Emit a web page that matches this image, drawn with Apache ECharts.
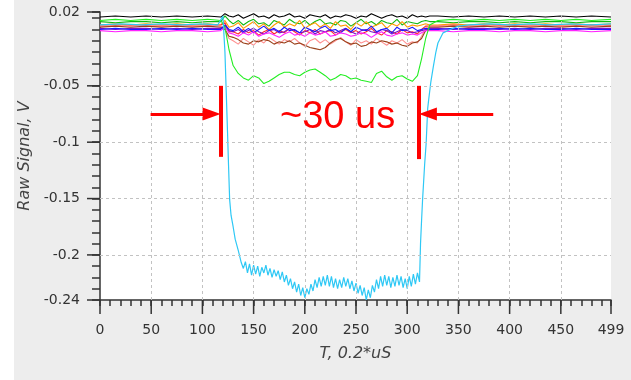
<!DOCTYPE html>
<html><head><meta charset="utf-8">
<script src="https://cdn.jsdelivr.net/npm/echarts@6/dist/echarts.min.js"></script>
<style>html,body{margin:0;padding:0;background:#fff}#c{width:631px;height:380px}</style>
</head><body><div id="c"></div>
<script>
// ---- data ----
const T = [0,15,30,45,60,75,90,105,118,122,126,
130,135,140,145,150,155,160,165,170,175,180,185,190,195,200,205,210,215,220,225,230,235,240,245,250,255,260,265,270,275,280,285,290,295,300,305,310,
314,318,322,330,345,360,375,390,405,420,435,450,465,480,499];

const black = [.011,.012,.011,.012,.011,.012,.011,.012,.011, .014,.012,
.011,.013,.010,.012,.014,.011,.012,.010,.013,.011,
.012,.014,.011,.012,.010,.013,.012,.011,.013,.010,
.012,.011,.013,.012,.010,.012,.011,.014,.012,.010,
.012,.013,.011,.012,.010,.013,.011,
.012,.011,.012, .012,.011,.012,.011,.012,.011,.012,.011,.012,.011,.012,.011];

const lime = [.008,.009,.008,.009,.008,.009,.008,.009,.008, .002,-.018,
-.032,-.039,-.043,-.045,-.041,-.043,-.048,-.046,-.043,-.040,
-.038,-.038,-.040,-.041,-.038,-.036,-.035,-.038,-.041,-.045,
-.043,-.040,-.041,-.044,-.043,-.045,-.046,-.047,-.039,-.037,
-.042,-.045,-.042,-.041,-.044,-.046,-.041,
-.026,-.008,.004, .008,.009,.008,.009,.008,.009,.008,.009,.008,.009,.008,.009];

const green2 = [.007,.006,.007,.007,.006,.007,.006,.007,.007, .012,.008,
.005,.008,.004,.007,.009,.005,.006,.003,.008,.006,
.004,.009,.006,.005,.008,.004,.007,.009,.005,.006,
.004,.008,.007,.003,.006,.009,.005,.007,.004,.008,
.006,.005,.009,.004,.007,.006,.005,
.007,.008,.007, .007,.006,.007,.007,.006,.007,.006,.007,.007,.006,.007,.007];

const orange = [.004,.005,.004,.005,.004,.005,.004,.005,.004, .008,.002,
.003,.006,.001,.004,.007,.002,.005,.000,.004,.007,
.002,.005,.003,.008,.001,.004,.006,.002,.005,.001,
.007,.003,.004,.000,.006,.003,.007,.002,.004,.006,
.001,.005,.003,.007,.002,.004,.003,
.004,.005,.004, .004,.005,.004,.005,.004,.005,.004,.005,.004,.005,.004,.005];

const red = [.003,.003,.004,.003,.003,.004,.003,.003,.004, .006,-.002,
-.002,-.004,.000,-.003,-.001,-.005,-.002,.000,-.004,-.001,
-.003,.001,-.002,-.005,-.001,-.003,.000,-.004,-.002,-.001,
-.005,-.002,.000,-.003,-.001,-.004,-.002,.001,-.003,-.005,
-.001,-.002,-.004,.000,-.003,-.002,-.004,
.000,.003,.003, .003,.004,.003,.003,.004,.003,.003,.004,.003,.003,.004,.003];

const salmon = [.003,.004,.003,.004,.003,.004,.003,.004,.003, .000,-.008,
-.010,-.013,-.008,-.011,-.014,-.009,-.012,-.007,-.010,-.013,
-.009,-.011,-.008,-.012,-.015,-.010,-.008,-.012,-.009,-.013,
-.010,-.007,-.011,-.014,-.009,-.012,-.010,-.013,-.008,-.011,
-.014,-.010,-.012,-.009,-.013,-.011,-.012,
-.006,.001,.003, .003,.004,.003,.004,.003,.004,.003,.004,.003,.004,.003,.004];

const brown = [.002,.003,.002,.003,.002,.003,.002,.003,.002, .000,-.006,
-.007,-.009,-.012,-.013,-.010,-.011,-.009,-.010,-.013,-.011,
-.012,-.010,-.013,-.012,-.014,-.016,-.017,-.018,-.016,-.012,
-.009,-.008,-.011,-.013,-.012,-.015,-.014,-.011,-.012,-.010,
-.011,-.013,-.012,-.014,-.015,-.012,-.011,
-.008,-.001,.002, .002,.003,.002,.003,.002,.003,.002,.003,.002,.003,.002,.003];

const magenta = [-.001,-.002,-.001,-.001,-.002,-.001,-.001,-.002,-.001, .002,-.003,
-.004,-.006,-.003,-.005,-.002,-.006,-.004,-.003,-.005,-.007,
-.004,-.002,-.005,-.004,-.006,-.003,-.005,-.004,-.002,-.006,
-.005,-.003,-.004,-.006,-.005,-.003,-.004,-.007,-.004,-.002,
-.005,-.006,-.004,-.003,-.005,-.004,-.005,
-.003,-.001,-.001, -.001,-.002,-.001,-.001,-.002,-.001,-.001,-.002,-.001,-.001,-.002,-.001];

const blue = [.000,.001,.000,.000,.001,.000,.001,.000,.000, .004,.000,
-.001,.002,-.002,.001,-.003,.000,.003,-.001,.001,-.002,
.002,-.001,.000,-.003,.002,.000,-.002,.001,.003,-.001,
.000,-.003,.001,-.002,.002,.000,-.001,.003,-.002,.000,
.001,-.003,.002,-.001,.000,.002,-.001,
.000,.001,.000, .000,.001,.000,.000,.001,.000,.001,.000,.000,.001,.000,.000];

const purple = [.001,.000,.001,.001,.000,.001,.000,.001,.001, .003,-.001,
-.002,.000,-.003,-.001,.001,-.002,-.004,-.001,.000,-.003,
-.002,.001,-.001,-.003,-.002,.000,-.004,-.001,-.002,.000,
-.003,-.001,.001,-.002,-.004,-.001,.000,-.002,-.003,.000,
-.001,-.004,-.002,.000,-.001,-.003,-.002,
-.001,.000,.001, .001,.000,.001,.001,.000,.001,.000,.001,.001,.000,.001,.001];

const tCyan = [0,20,40,60,80,100,115,120,
122,123.5,124.5,125.5,126.6,128,130,132,135,138,
140,142,144,146,148,150,152,154,156,158,
160,162,164,166,168,170,172,174,176,178,
180,182,184,186,188,190,192,194,196,198,
200,202,204,206,208,210,212,214,216,218,
220,222,224,226,228,230,232,234,236,238,
240,242,244,246,248,250,252,254,256,258,
260,262,264,266,268,270,272,274,276,278,
280,282,284,286,288,290,292,294,296,298,
300,302,304,306,308,310,312,
313,314,315,317,318.5,320,321,323,325.5,328,330,335,342,350,360,
380,400,420,440,460,480,499];
const vCyan = [.004,.005,.004,.005,.004,.005,.004,.012,
-.020,-.062,-.090,-.120,-.151,-.165,-.175,-.186,-.196,-.207,
-.212,-.206,-.216,-.208,-.218,-.209,-.217,-.210,-.219,-.211,
-.216,-.209,-.218,-.212,-.220,-.213,-.219,-.214,-.222,-.215,
-.224,-.218,-.227,-.221,-.230,-.224,-.233,-.226,-.236,-.229,
-.238,-.230,-.235,-.226,-.232,-.222,-.229,-.220,-.228,-.219,
-.227,-.218,-.228,-.219,-.229,-.221,-.230,-.222,-.229,-.220,
-.228,-.221,-.230,-.223,-.232,-.225,-.234,-.227,-.236,-.229,
-.240,-.231,-.238,-.227,-.233,-.222,-.230,-.219,-.228,-.218,
-.227,-.219,-.229,-.220,-.228,-.218,-.227,-.219,-.229,-.221,
-.230,-.219,-.228,-.217,-.226,-.216,-.224,
-.190,-.170,-.151,-.120,-.101,-.070,-.062,-.047,-.033,-.020,-.012,-.003,.000,.003,.004,
.005,.004,.005,.004,.005,.004,.005];

const X_MIN = 0, X_MAX = 499;
const Y_MIN = -0.24, Y_MAX = 0.0155;
const X_LABELS = [0,50,100,150,200,250,300,350,400,450,499];
const Y_LABELS = [-0.24,-0.2,-0.15,-0.1,-0.05];
const Y_TOP_LABEL = '0.02';
const GRID_X = [50,100,150,200,250,300,350,400,450];
const GRID_Y = [-0.05,-0.1,-0.15,-0.2];
const X_NAME = 'T, 0.2*uS';
const Y_NAME = 'Raw Signal, V';
// annotation (data coordinates)
const BARS = [[117.8,-0.050,-0.113],[310.8,-0.050,-0.115]];
const ARROWS = [[49.4,109.0,-0.075],[384.0,320.2,-0.075]];
const ANNOT_TEXT = '~30 us';
const ANNOT_POS = [232,-0.0785];

// ---- chart ----
const chart = echarts.init(document.getElementById('c'), null, {renderer:'canvas'});
const pairs = (xs, ys) => xs.map((x,i)=>[x, ys[i]]);
const traces = [
  {v: black,  c:'#000000'},
  {v: green2, c:'#11b811'},
  {v: orange, c:'#ff9900'},
  {v: red,    c:'#ff2a2a'},
  {v: salmon, c:'#ff9090'},
  {v: brown,  c:'#99401a'},
  {v: purple, c:'#7a10c8'},
  {v: blue,   c:'#1a1aff'},
  {v: magenta,c:'#ff22ff'},
  {v: lime,   c:'#22ee22'}
];
const series = [];
series.push({type:'line', data:[], z:1, silent:true, animation:false,
  markLine:{silent:true, symbol:'none', animation:false, label:{show:false},
    lineStyle:{color:'#c2c2c2', type:[3,3], width:1},
    data:[...GRID_X.map(x=>({xAxis:x})), ...GRID_Y.map(y=>({yAxis:y})), {yAxis:Y_MAX}]}});
traces.forEach(tr => series.push({type:'line', data:pairs(T, tr.v), symbol:'none', showSymbol:false,
  lineStyle:{color:tr.c, width:1.1}, itemStyle:{color:tr.c}, z:2, silent:true, animation:false}));
series.push({type:'line', data:pairs(tCyan, vCyan), symbol:'none', showSymbol:false,
  lineStyle:{color:'#2ec8f5', width:1.2}, itemStyle:{color:'#2ec8f5'}, z:3, silent:true, animation:false});
series.push({type:'line', data:[], z:5, silent:true, animation:false,
  markLine:{silent:true, symbol:'none', animation:false, label:{show:false},
    lineStyle:{color:'#ff0000', width:4, type:'solid'},
    data: BARS.map(b => [{coord:[b[0], b[1]]},{coord:[b[0], b[2]]}])}});
series.push({type:'line', data:[], z:5, silent:true, animation:false,
  markLine:{silent:true, symbol:['none','triangle'], symbolSize:[13,18], animation:false, label:{show:false},
    lineStyle:{color:'#ff0000', width:3, type:'solid'},
    data: ARROWS.map(a => [{coord:[a[0], a[2]]},{coord:[a[1], a[2]]}])}});

chart.setOption({
  animation:false,
  backgroundColor:'#ededed',
  grid:{left:100, right:20, top:12, bottom:80, show:true, backgroundColor:'#ffffff', borderWidth:0},
  xAxis:{type:'value', min:X_MIN, max:X_MAX, interval:10,
    name:X_NAME, nameLocation:'middle', nameGap:46,
    nameTextStyle:{fontFamily:'DejaVu Sans', fontStyle:'italic', fontSize:16, color:'#444'},
    axisLine:{show:true, onZero:false, lineStyle:{color:'#333', width:1.5}},
    axisTick:{show:true, inside:false, length:6, lineStyle:{color:'#333', width:1.5}},
    axisLabel:{margin:23, fontFamily:'DejaVu Sans', fontSize:14, color:'#333', showMaxLabel:true, showMinLabel:true,
      formatter: v => X_LABELS.some(l => Math.abs(l - v) < 1e-6) ? String(Math.round(v)) : ''},
    splitLine:{show:false}},
  yAxis:{type:'value', min:Y_MIN, max:Y_MAX, interval:0.01,
    name:Y_NAME, nameLocation:'middle', nameGap:55, nameRotate:90,
    nameTextStyle:{fontFamily:'DejaVu Sans', fontStyle:'italic', fontSize:16, color:'#444'},
    axisLine:{show:true, onZero:false, lineStyle:{color:'#333', width:1.5}},
    axisTick:{show:true, inside:false, length:8, lineStyle:{color:'#333', width:1.5}},
    axisLabel:{margin:20, fontFamily:'DejaVu Sans', fontSize:14, color:'#333', showMaxLabel:true, showMinLabel:true,
      formatter: v => {
        if (v > Y_MAX - 0.002) return Y_TOP_LABEL;
        const hit = Y_LABELS.find(l => Math.abs(l - v) < 1e-6);
        return hit === undefined ? '' : String(hit);
      }},
    splitLine:{show:false}},
  series: series
});

// major ticks, annotation text and outer margin, placed through the chart's own scales
const g = [{type:'rect', z:-10, shape:{x:0, y:0, width:14, height:380}, style:{fill:'#ffffff'}}];
const xLeft = chart.convertToPixel({xAxisIndex:0}, X_MIN);
const yBottom = chart.convertToPixel({yAxisIndex:0}, Y_MIN);
Y_LABELS.concat([Y_MAX]).forEach(v => {
  const y = chart.convertToPixel({yAxisIndex:0}, v);
  g.push({type:'line', z:10, shape:{x1:xLeft-13, y1:y, x2:xLeft, y2:y}, style:{stroke:'#333', lineWidth:1.5}});
});
X_LABELS.forEach(v => {
  const x = chart.convertToPixel({xAxisIndex:0}, v);
  g.push({type:'line', z:10, shape:{x1:x, y1:yBottom, x2:x, y2:yBottom+14}, style:{stroke:'#333', lineWidth:1.5}});
});
const tp = chart.convertToPixel({xAxisIndex:0, yAxisIndex:0}, ANNOT_POS);
g.push({type:'text', z:20, x:tp[0], y:tp[1], style:{text:ANNOT_TEXT, fill:'#ff0000', font:'38px "Liberation Sans"',
  align:'center', verticalAlign:'middle'}});
chart.setOption({graphic: g});
</script>
</body></html>
